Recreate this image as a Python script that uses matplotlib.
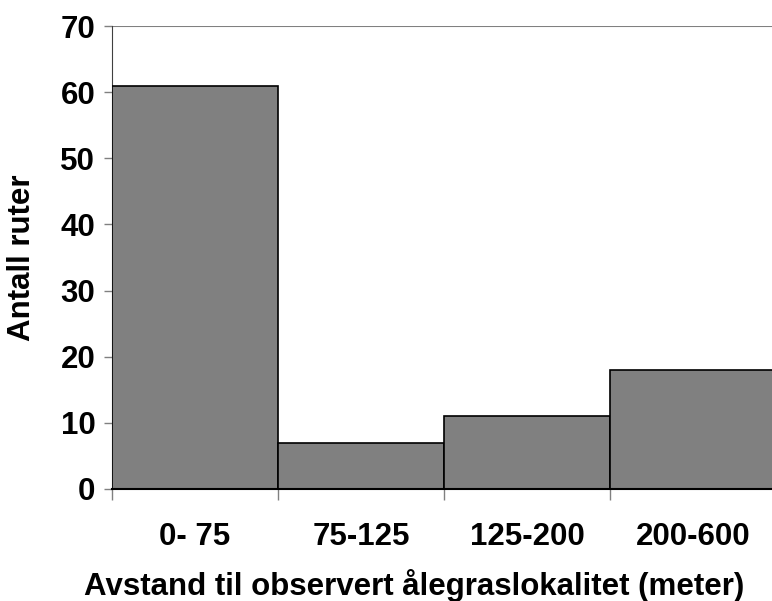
import matplotlib
matplotlib.use("Agg")
import matplotlib.pyplot as plt
import numpy as np

categories = ["0- 75", "75-125", "125-200", "200-600"]
values = [61, 7, 11, 18]
yticks = [0, 10, 20, 30, 40, 50, 60, 70]

plt.rcParams['font.family'] = ['Liberation Sans', 'DejaVu Sans']
FS = 22.5

fig = plt.figure(figsize=(7.72, 6.01), dpi=100)
ax = fig.add_axes([112/772, (601-489)/601, 664/772, (489-26)/601])

x = np.arange(len(categories))
ax.bar(x, values, width=1.0, color="#808080", edgecolor="black", linewidth=1.2, zorder=3)

ax.set_xlim(-0.5, len(categories) - 0.5)
ax.set_ylim(0, 70)
ax.set_yticks(yticks)
ax.set_yticklabels([str(v) for v in yticks], fontsize=FS, fontweight="bold")
ax.set_xticks(x)
ax.set_xticklabels(categories, fontsize=FS, fontweight="bold")
ax.tick_params(axis="x", length=0, pad=24)
ax.set_xticks(np.arange(len(categories) + 1) - 0.5, minor=True)
ax.tick_params(axis="x", which="minor", length=8, color="#808080", width=1)
ax.tick_params(axis="y", length=6, color="#808080", width=1, pad=6)

ax.axhline(70, color="#808080", linewidth=1.5, zorder=1)
for s in ["top", "right"]:
    ax.spines[s].set_visible(False)
ax.spines["left"].set_color("#404040")
ax.spines["bottom"].set_color("black")
ax.spines["bottom"].set_linewidth(1.5)
ax.spines["bottom"].set_zorder(4)

ax.set_ylabel("Antall ruter", fontsize=FS, fontweight="bold")
ax.yaxis.set_label_coords(-(112 - 22) / 664, 0.5)
ax.set_xlabel("Avstand til observert ålegraslokalitet (meter)", fontsize=FS, fontweight="bold")
ax.xaxis.set_label_coords((414 - 112) / 664, -(585 - 489) / 463, transform=ax.transAxes)
ax.xaxis.label.set_va("center")
ax.yaxis.label.set_va("center")

fig.savefig("out.png", dpi=100)
